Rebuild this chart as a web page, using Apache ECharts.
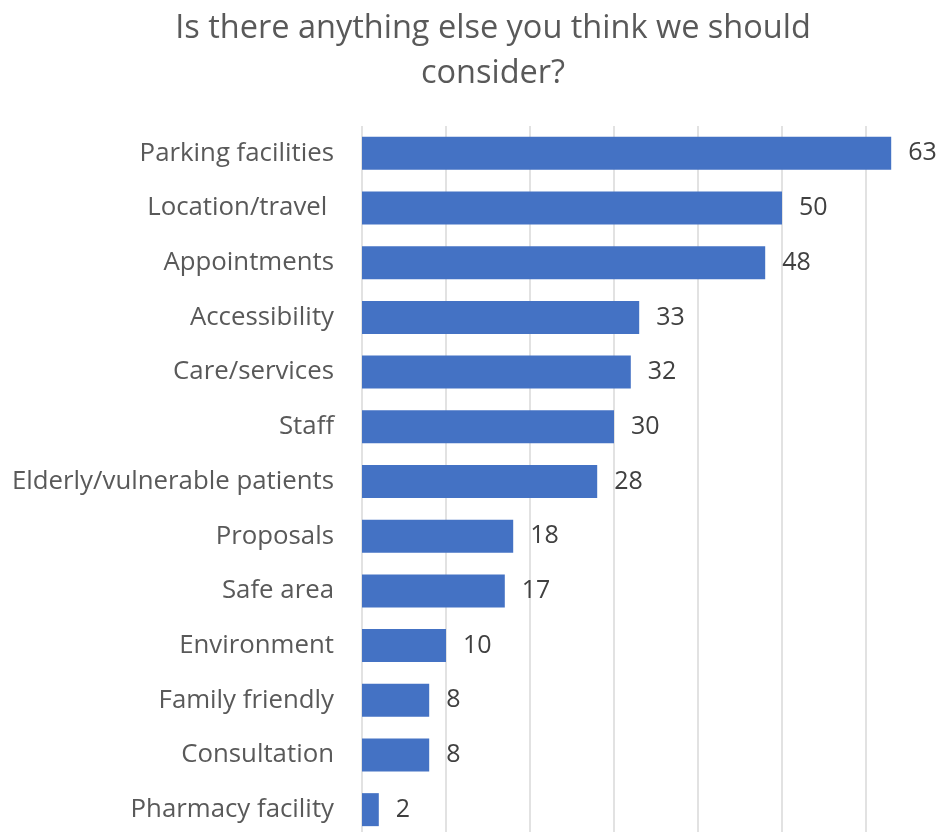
<!DOCTYPE html>
<html>
<head>
<meta charset="utf-8">
<script src="https://cdn.jsdelivr.net/npm/echarts@6/dist/echarts.min.js"></script>
<style>
html,body{margin:0;padding:0;background:#fff;}
#c{width:939px;height:832px;}
</style>
</head>
<body>
<div id="c"></div>
<script>
const titleText = 'Is there anything else you think we should\nconsider?';
const categories = ['Parking facilities','Location/travel ','Appointments','Accessibility','Care/services','Staff','Elderly/vulnerable patients','Proposals','Safe area','Environment','Family friendly','Consultation','Pharmacy facility'];
const values = [63,50,48,33,32,30,28,18,17,10,8,8,2];
const xMin = 0, xMax = 70, xInterval = 10;

const chart = echarts.init(document.getElementById('c'), null, {renderer:'canvas'});
chart.setOption({
  animation:false,
  title:{
    text:titleText,
    left:488, textAlign:'center', top:1,
    textStyle:{fontFamily:'Open Sans', fontSize:32.5, fontWeight:'normal', color:'#595959', lineHeight:45}
  },
  grid:{left:362, top:126, width:588, height:711, containLabel:false, outerBoundsMode:'none'},
  xAxis:{
    type:'value', min:xMin, max:xMax, interval:xInterval,
    axisLabel:{show:false}, axisLine:{show:false}, axisTick:{show:false},
    splitLine:{show:true, lineStyle:{color:'#d9d9d9', width:1.5}}
  },
  yAxis:{
    type:'category', data:categories, inverse:true,
    axisLine:{show:false}, axisTick:{show:false},
    axisLabel:{margin:28, fontFamily:'Open Sans', fontSize:25.8, color:'#595959', padding:[4,0,0,0]}
  },
  series:[{
    type:'bar', data:values, barWidth:33,
    itemStyle:{color:'#4472C4'},
    label:{show:true, position:'right', distance:17, fontFamily:'Open Sans', fontSize:25, color:'#404040', padding:[4,0,0,0]}
  }]
});
</script>
</body>
</html>
